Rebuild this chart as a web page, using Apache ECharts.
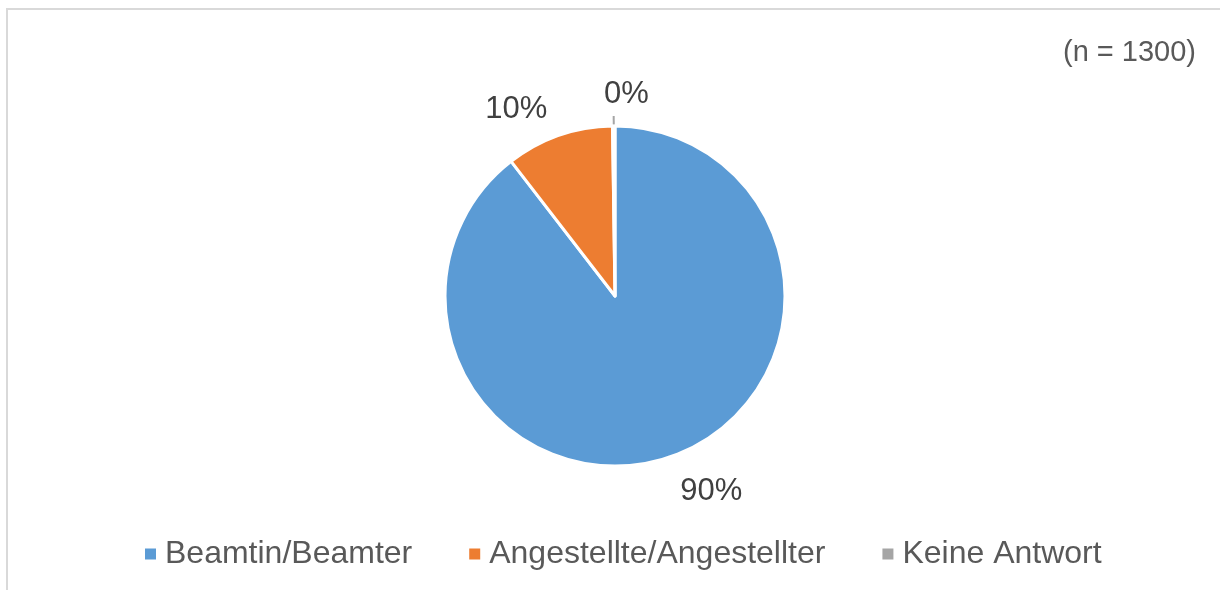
<!DOCTYPE html>
<html>
<head>
    <meta charset="utf-8">
    <title>Beschäftigungsverhältnis</title>
    <style>
        html, body { margin: 0; padding: 0; background: #fff; overflow: hidden; }
    </style>
</head>
<body>
    <div id="main" style="width:1220px;height:590px"></div>
    <script src="https://cdn.jsdelivr.net/npm/echarts@6/dist/echarts.min.js"></script>
    <script type="text/javascript">
    // Daten
    var categories = ['Beamtin/Beamter', 'Angestellte/Angestellter', 'Keine Antwort'];
    var counts = [1164, 133, 3];
    var colors = ['#5B9BD5', '#ED7D31', '#A5A5A5'];
    var sampleLabel = '(n = 1300)';

    var total = counts.reduce(function (a, b) { return a + b; }, 0);
    var textColor = '#595959';
    var font = '"Liberation Sans", Arial, sans-serif';

    // kleine Verschiebungen der Beschriftungen
    var labelShift = [[-5, 4], [4, 4], [40, -22]];

    var myChart = echarts.init(document.getElementById('main'));

    var data = [];
    for (var i = 0; i < categories.length; i++) {
        var item = {
            name: categories[i],
            value: counts[i],
            itemStyle: { color: colors[i] },
            labelLine: { show: false, length: 32, length2: 0 }
        };
        if (i === 2) {
            // kleine Scheibe: kurze Führungslinie
            item.labelLine = { show: true, length: 10, length2: 0, lineStyle: { color: '#A5A5A5', width: 2 } };
        }
        data.push(item);
    }

    var option = {
        textStyle: { fontFamily: font },
        title: {
            text: sampleLabel,
            right: 19,
            top: 33,
            textStyle: { fontSize: 29, fontWeight: 'normal', color: textColor, fontFamily: font }
        },
        legend: {
            bottom: 15,
            left: 138,
            icon: 'rect',
            itemWidth: 13,
            itemHeight: 13,
            itemGap: 55,
            textStyle: { fontSize: 32, color: textColor, fontFamily: font, padding: [0, 0, 0, 3] },
            data: categories
        },
        graphic: [{
            type: 'rect',
            shape: { x: 7, y: 9, width: 1400, height: 800 },
            style: { fill: 'none', stroke: '#D9D9D9', lineWidth: 2 },
            silent: true
        }],
        series: [{
            type: 'pie',
            center: [615, 296],
            radius: 170,
            startAngle: 90,
            clockwise: true,
            avoidLabelOverlap: false,
            itemStyle: { borderColor: '#fff', borderWidth: 3 },
            label: {
                show: true,
                position: 'outside',
                fontSize: 31,
                color: '#404040',
                fontFamily: font,
                formatter: function (p) {
                    return Math.round(p.value / total * 100) + '%';
                }
            },
            labelLayout: function (p) {
                var s = labelShift[p.dataIndex];
                return { dx: s[0], dy: s[1] };
            },
            emphasis: { disabled: true },
            data: data
        }]
    };
    myChart.setOption(option);
    </script>
</body>
</html>
